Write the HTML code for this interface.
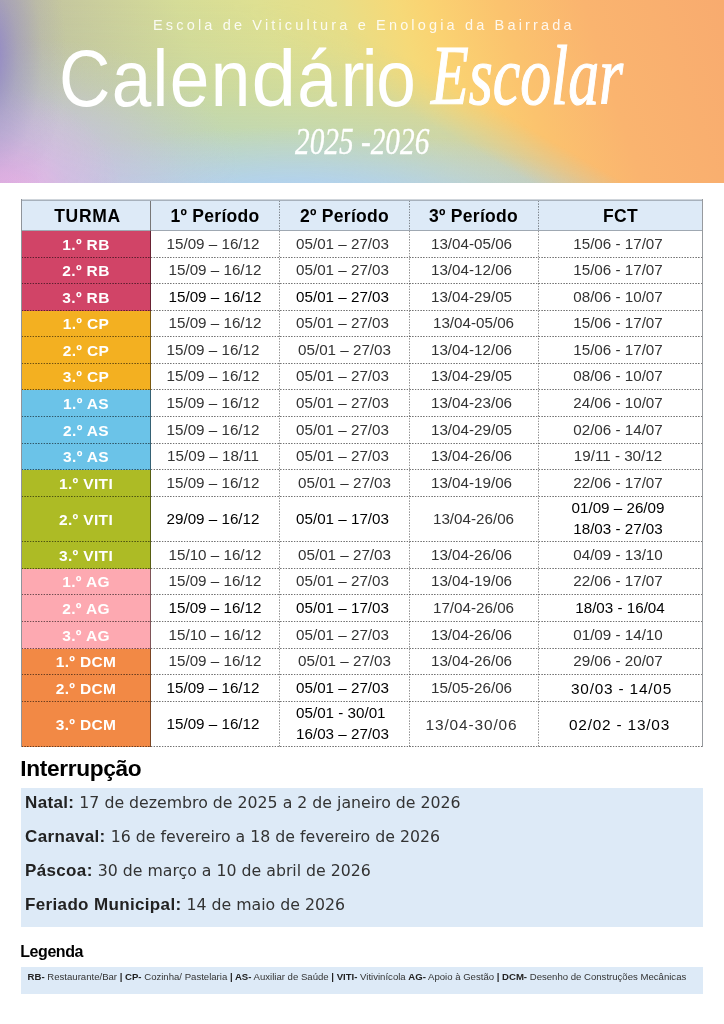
<!DOCTYPE html>
<html lang="pt">
<head>
<meta charset="utf-8">
<title>Calendário Escolar 2025-2026</title>
<style>
*{box-sizing:border-box;margin:0;padding:0}
html,body{width:724px;height:1024px;background:#fff;overflow:hidden}
body{position:relative;font-family:"Liberation Sans",sans-serif;color:#333}
.hero{position:absolute;left:0;top:0;width:724px;height:183px;overflow:hidden;
 background:linear-gradient(72deg, #b7b5ac 0%, #bcbca6 8%, #c5c79f 15%, #d5dc98 30%, #dee092 40%, #e7de88 50%, #f6d978 58%, #fad372 62%, #fbc36e 71%, #fab46f 82%, #f8ab6f 100%);
}
.hero .lb{position:absolute;left:0;top:0;width:724px;height:183px;
 -webkit-mask-image:linear-gradient(29.8deg,#000 0%,#000 51%,rgba(0,0,0,.5) 55.5%,rgba(0,0,0,0) 60%);
 mask-image:linear-gradient(29.8deg,#000 0%,#000 51%,rgba(0,0,0,.5) 55.5%,rgba(0,0,0,0) 60%);
 background:
  radial-gradient(ellipse 80px 175px at -14px 55px, rgba(147,137,197,1) 0%, rgba(147,137,197,.92) 15%, rgba(150,140,197,.5) 40%, rgba(155,145,197,.15) 70%, rgba(155,145,197,0) 100%),
  radial-gradient(ellipse 130px 112px at -8px 198px, rgba(234,176,228,1) 0%, rgba(232,177,228,.88) 25%, rgba(225,182,228,.4) 60%, rgba(215,190,230,0) 100%),
  radial-gradient(ellipse 210px 140px at 30px 178px, rgba(206,190,230,.85) 0%, rgba(204,192,230,.6) 40%, rgba(200,196,230,.2) 75%, rgba(200,198,230,0) 100%),
  radial-gradient(ellipse 330px 95px at 290px 222px, rgba(178,210,238,1) 0%, rgba(178,210,238,.95) 42%, rgba(180,211,234,.5) 70%, rgba(182,212,228,0) 100%),
  linear-gradient(180deg, rgba(195,214,160,0) 0%, rgba(192,213,165,.12) 25%, rgba(188,213,172,.4) 49%, rgba(182,213,192,.62) 72%, rgba(178,208,210,.7) 100%);
}
.sub{position:absolute;left:153px;top:15.8px;color:rgba(255,255,255,.88);font-size:14.5px;letter-spacing:3.16px;line-height:18px;white-space:nowrap}
.t1{position:absolute;left:59px;top:32.5px;font-size:79px;line-height:92px;color:#fff;letter-spacing:1.5px;white-space:nowrap;transform-origin:left center;transform:scaleX(.9)}
.t2{position:absolute;left:431px;top:28px;font-family:"Liberation Serif",serif;font-style:italic;font-size:84.6px;line-height:96px;color:#fff;letter-spacing:0;white-space:nowrap;transform-origin:left center;transform:scaleX(.73);-webkit-text-stroke:1.2px #fff}
.yr{position:absolute;left:295px;top:120px;font-family:"Liberation Serif",serif;font-style:italic;font-size:37.6px;line-height:44px;color:#fff;letter-spacing:0;white-space:nowrap;transform-origin:left center;transform:scaleX(.78);-webkit-text-stroke:.3px #fff}
.bl{position:absolute;background:#8f949b}
.b-l{left:21px;top:199px;width:1px;height:548px}
.b-r{left:702px;top:199px;width:1px;height:548px;background:#979a9e}
.b-t1{left:21px;top:199px;width:682px;height:1px;background:#cfd5db}
.b-t2{left:21px;top:200px;width:682px;height:1px;background:#a7b1bc}
.hd{position:absolute;left:22px;top:200px;width:680px;height:31px;background:#ddeaf7;border-bottom:1px solid #9fa8b2}
.hd div{position:absolute;top:.8px;height:30px;line-height:31px;text-align:center;font-weight:bold;font-size:17.5px;color:#000;letter-spacing:.3px}
.row{position:absolute;left:22px;width:680px}
.row::after{content:"";position:absolute;left:0;right:0;bottom:0;height:1px;background:repeating-linear-gradient(90deg,rgba(0,0,0,.55) 0,rgba(0,0,0,.55) .7px,rgba(0,0,0,0) 1.45px,rgba(0,0,0,0) 2px,rgba(0,0,0,.55) 2.75px);z-index:3}
.c{position:absolute;top:0;height:100%;display:flex;align-items:center;justify-content:center;font-size:15.2px;line-height:21px;padding-bottom:2.5px;text-align:center;white-space:nowrap}
.c span{position:relative;display:inline-block}
.c0{left:0;width:129px;color:#fff;font-weight:bold;font-size:15.5px;letter-spacing:.35px;border-right:1px solid rgba(0,0,0,.5);padding-bottom:1px}
.c1{left:127px;width:128px}
.c2{left:256px;width:129px}
.c3{left:385px;width:129px}
.c4{left:514.5px;width:163px}
.alt{letter-spacing:.8px;font-size:15.4px}
.c3.alt{letter-spacing:.9px}
.alt span{top:1px}
.vl{position:absolute;top:201px;height:546px;width:1px;background:repeating-linear-gradient(180deg,rgba(0,0,0,.42) 0,rgba(0,0,0,.42) .7px,rgba(0,0,0,0) 1.45px,rgba(0,0,0,0) 2px,rgba(0,0,0,.42) 2.75px)}
.vs{position:absolute;top:200px;height:31px;width:1px;left:150px;background:#777}
h2{position:absolute;left:20.3px;font-weight:bold;color:#000;white-space:nowrap}
.h-int{top:753.5px;font-size:22.7px;line-height:28px;letter-spacing:-.36px}
.h-leg{top:941.5px;font-size:16px;line-height:20px;letter-spacing:-.45px}
.box1{position:absolute;left:21px;top:788px;width:682px;height:139px;background:#ddeaf7}
.box1 p{position:absolute;left:4px;font-family:"DejaVu Sans",sans-serif;font-size:15.76px;line-height:20px;margin-top:.5px;color:#333;white-space:nowrap}
.box1 b{font-family:"Liberation Sans",sans-serif;font-size:17px;letter-spacing:.35px;color:#222}
.box2{position:absolute;left:21px;top:967px;width:682px;height:27px;background:#ddeaf7}
.box2 p{position:absolute;left:6.6px;top:3px;font-size:9.592px;line-height:14px;color:#333;white-space:nowrap}
.box2 b{color:#222}
</style>
</head>
<body>
<div class="hero">
 <div class="lb"></div>
 <div class="sub">Escola de Viticultura e Enologia da Bairrada</div>
 <div class="t1">Calen<span style="display:inline-block;transform-origin:left center;transform:scaleX(1.13)">d</span><span style="margin-left:5.4px">á</span><span style="margin-left:2.9px">r</span><span style="margin-left:-4.4px">i</span><span style="margin-left:-3.2px">o</span></div>
 <div class="t2">Escolar</div>
 <div class="yr">2025 -2026</div>
</div>
<div class="hd">
 <div style="left:1.5px;width:128px;letter-spacing:.7px">TURMA</div>
 <div style="left:129px;width:128px">1º Período</div>
 <div style="left:258px;width:129px">2º Período</div>
 <div style="left:387px;width:129px">3º Período</div>
 <div style="left:517px;width:163px">FCT</div>
</div>
<div class="row" style="top:231.00px;height:27.00px">
<div class="c c0" style="background:#d14467"><span>1.º RB</span></div>
<div class="c c1" style="color:#333"><span style="left:0px">15/09 – 16/12</span></div>
<div class="c c2" style="color:#333"><span style="left:0px">05/01 – 27/03</span></div>
<div class="c c3" style="color:#333"><span style="left:0px">13/04-05/06</span></div>
<div class="c c4" style="color:#333"><span style="left:0px">15/06 - 17/07</span></div>
</div>
<div class="row" style="top:258.00px;height:26.00px">
<div class="c c0" style="background:#d14467"><span>2.º RB</span></div>
<div class="c c1" style="color:#333"><span style="left:2px">15/09 – 16/12</span></div>
<div class="c c2" style="color:#333"><span style="left:0px">05/01 – 27/03</span></div>
<div class="c c3" style="color:#333"><span style="left:0px">13/04-12/06</span></div>
<div class="c c4" style="color:#333"><span style="left:0px">15/06 - 17/07</span></div>
</div>
<div class="row" style="top:284.00px;height:27.00px">
<div class="c c0" style="background:#d14467"><span>3.º RB</span></div>
<div class="c c1" style="color:#000"><span style="left:2px">15/09 – 16/12</span></div>
<div class="c c2" style="color:#000"><span style="left:0px">05/01 – 27/03</span></div>
<div class="c c3" style="color:#333"><span style="left:0px">13/04-29/05</span></div>
<div class="c c4" style="color:#333"><span style="left:0px">08/06 - 10/07</span></div>
</div>
<div class="row" style="top:311.00px;height:26.00px">
<div class="c c0" style="background:#f3b021"><span>1.º CP</span></div>
<div class="c c1" style="color:#333"><span style="left:2px">15/09 – 16/12</span></div>
<div class="c c2" style="color:#333"><span style="left:0px">05/01 – 27/03</span></div>
<div class="c c3" style="color:#333"><span style="left:2px">13/04-05/06</span></div>
<div class="c c4" style="color:#333"><span style="left:0px">15/06 - 17/07</span></div>
</div>
<div class="row" style="top:337.00px;height:27.00px">
<div class="c c0" style="background:#f3b021"><span>2.º CP</span></div>
<div class="c c1" style="color:#333"><span style="left:0px">15/09 – 16/12</span></div>
<div class="c c2" style="color:#333"><span style="left:2px">05/01 – 27/03</span></div>
<div class="c c3" style="color:#333"><span style="left:0px">13/04-12/06</span></div>
<div class="c c4" style="color:#333"><span style="left:0px">15/06 - 17/07</span></div>
</div>
<div class="row" style="top:364.00px;height:26.00px">
<div class="c c0" style="background:#f3b021"><span>3.º CP</span></div>
<div class="c c1" style="color:#333"><span style="left:0px">15/09 – 16/12</span></div>
<div class="c c2" style="color:#333"><span style="left:0px">05/01 – 27/03</span></div>
<div class="c c3" style="color:#333"><span style="left:0px">13/04-29/05</span></div>
<div class="c c4" style="color:#333"><span style="left:0px">08/06 - 10/07</span></div>
</div>
<div class="row" style="top:390.00px;height:27.00px">
<div class="c c0" style="background:#6bc3e8"><span>1.º AS</span></div>
<div class="c c1" style="color:#333"><span style="left:0px">15/09 – 16/12</span></div>
<div class="c c2" style="color:#333"><span style="left:0px">05/01 – 27/03</span></div>
<div class="c c3" style="color:#333"><span style="left:0px">13/04-23/06</span></div>
<div class="c c4" style="color:#333"><span style="left:0px">24/06 - 10/07</span></div>
</div>
<div class="row" style="top:417.00px;height:27.00px">
<div class="c c0" style="background:#6bc3e8"><span>2.º AS</span></div>
<div class="c c1" style="color:#333"><span style="left:0px">15/09 – 16/12</span></div>
<div class="c c2" style="color:#333"><span style="left:0px">05/01 – 27/03</span></div>
<div class="c c3" style="color:#333"><span style="left:0px">13/04-29/05</span></div>
<div class="c c4" style="color:#333"><span style="left:0px">02/06 - 14/07</span></div>
</div>
<div class="row" style="top:444.00px;height:26.00px">
<div class="c c0" style="background:#6bc3e8"><span>3.º AS</span></div>
<div class="c c1" style="color:#333"><span style="left:0px">15/09 – 18/11</span></div>
<div class="c c2" style="color:#333"><span style="left:0px">05/01 – 27/03</span></div>
<div class="c c3" style="color:#333"><span style="left:0px">13/04-26/06</span></div>
<div class="c c4" style="color:#333"><span style="left:0px">19/11 - 30/12</span></div>
</div>
<div class="row" style="top:470.00px;height:27.00px">
<div class="c c0" style="background:#adbb25"><span>1.º VITI</span></div>
<div class="c c1" style="color:#333"><span style="left:0px">15/09 – 16/12</span></div>
<div class="c c2" style="color:#333"><span style="left:2px">05/01 – 27/03</span></div>
<div class="c c3" style="color:#333"><span style="left:0px">13/04-19/06</span></div>
<div class="c c4" style="color:#333"><span style="left:0px">22/06 - 17/07</span></div>
</div>
<div class="row" style="top:497.00px;height:45.00px">
<div class="c c0" style="background:#adbb25"><span>2.º VITI</span></div>
<div class="c c1" style="color:#000"><span style="left:0px">29/09 – 16/12</span></div>
<div class="c c2" style="color:#000"><span style="left:0px">05/01 – 17/03</span></div>
<div class="c c3" style="color:#333"><span style="left:2px">13/04-26/06</span></div>
<div class="c c4" style="color:#000"><span style="left:0px">01/09 – 26/09<br>18/03 - 27/03</span></div>
</div>
<div class="row" style="top:542.00px;height:27.00px">
<div class="c c0" style="background:#adbb25"><span>3.º VITI</span></div>
<div class="c c1" style="color:#333"><span style="left:2px">15/10 – 16/12</span></div>
<div class="c c2" style="color:#333"><span style="left:2px">05/01 – 27/03</span></div>
<div class="c c3" style="color:#333"><span style="left:0px">13/04-26/06</span></div>
<div class="c c4" style="color:#333"><span style="left:0px">04/09 - 13/10</span></div>
</div>
<div class="row" style="top:569.00px;height:26.00px">
<div class="c c0" style="background:#fda9b1"><span>1.º AG</span></div>
<div class="c c1" style="color:#333"><span style="left:2px">15/09 – 16/12</span></div>
<div class="c c2" style="color:#333"><span style="left:0px">05/01 – 27/03</span></div>
<div class="c c3" style="color:#333"><span style="left:0px">13/04-19/06</span></div>
<div class="c c4" style="color:#333"><span style="left:0px">22/06 - 17/07</span></div>
</div>
<div class="row" style="top:595.00px;height:27.00px">
<div class="c c0" style="background:#fda9b1"><span>2.º AG</span></div>
<div class="c c1" style="color:#000"><span style="left:2px">15/09 – 16/12</span></div>
<div class="c c2" style="color:#000"><span style="left:0px">05/01 – 17/03</span></div>
<div class="c c3" style="color:#333"><span style="left:2px">17/04-26/06</span></div>
<div class="c c4" style="color:#000"><span style="left:2px">18/03 - 16/04</span></div>
</div>
<div class="row" style="top:622.00px;height:27.00px">
<div class="c c0" style="background:#fda9b1"><span>3.º AG</span></div>
<div class="c c1" style="color:#333"><span style="left:2px">15/10 – 16/12</span></div>
<div class="c c2" style="color:#333"><span style="left:0px">05/01 – 27/03</span></div>
<div class="c c3" style="color:#333"><span style="left:0px">13/04-26/06</span></div>
<div class="c c4" style="color:#333"><span style="left:0px">01/09 - 14/10</span></div>
</div>
<div class="row" style="top:649.00px;height:26.00px">
<div class="c c0" style="background:#f28945"><span>1.º DCM</span></div>
<div class="c c1" style="color:#333"><span style="left:2px">15/09 – 16/12</span></div>
<div class="c c2" style="color:#333"><span style="left:2px">05/01 – 27/03</span></div>
<div class="c c3" style="color:#333"><span style="left:0px">13/04-26/06</span></div>
<div class="c c4" style="color:#333"><span style="left:0px">29/06 - 20/07</span></div>
</div>
<div class="row" style="top:675.00px;height:27.00px">
<div class="c c0" style="background:#f28945"><span>2.º DCM</span></div>
<div class="c c1" style="color:#000"><span style="left:0px">15/09 – 16/12</span></div>
<div class="c c2" style="color:#000"><span style="left:0px">05/01 – 27/03</span></div>
<div class="c c3" style="color:#333"><span style="left:0px">15/05-26/06</span></div>
<div class="c c4 alt" style="color:#000"><span style="left:3.5px">30/03 - 14/05</span></div>
</div>
<div class="row" style="top:702.00px;height:45.00px">
<div class="c c0" style="background:#f28945"><span>3.º DCM</span></div>
<div class="c c1" style="color:#000"><span style="left:0px">15/09 – 16/12</span></div>
<div class="c c2" style="color:#000"><span style="left:0px;text-align:left">05/01 - 30/01<br>16/03 – 27/03</span></div>
<div class="c c3 alt" style="color:#333"><span style="left:0px">13/04-30/06</span></div>
<div class="c c4 alt" style="color:#000"><span style="left:1.5px">02/02 - 13/03</span></div>
</div>
<div class="vs"></div>
<div class="vl" style="left:279px"></div>
<div class="vl" style="left:409px"></div>
<div class="vl" style="left:538px"></div>
<div class="bl b-t1"></div><div class="bl b-t2"></div><div class="bl b-l"></div><div class="bl b-r"></div>
<h2 class="h-int">Interrupção</h2>
<div class="box1">
 <p style="top:4px"><b>Natal:</b> 17 de dezembro de 2025 a 2 de janeiro de 2026</p>
 <p style="top:38px"><b>Carnaval:</b> 16 de fevereiro a 18 de fevereiro de 2026</p>
 <p style="top:72px"><b>Páscoa:</b> 30 de março a 10 de abril de 2026</p>
 <p style="top:106px"><b>Feriado Municipal:</b> 14 de maio de 2026</p>
</div>
<h2 class="h-leg">Legenda</h2>
<div class="box2">
 <p><b>RB-</b> Restaurante/Bar <b>| CP-</b> Cozinha/ Pastelaria <b>| AS-</b> Auxiliar de Saúde <b>| VITI-</b> Vitivinícola <b>AG-</b> Apoio à Gestão <b>| DCM-</b> Desenho de Construções Mecânicas</p>
</div>
</body>
</html>
